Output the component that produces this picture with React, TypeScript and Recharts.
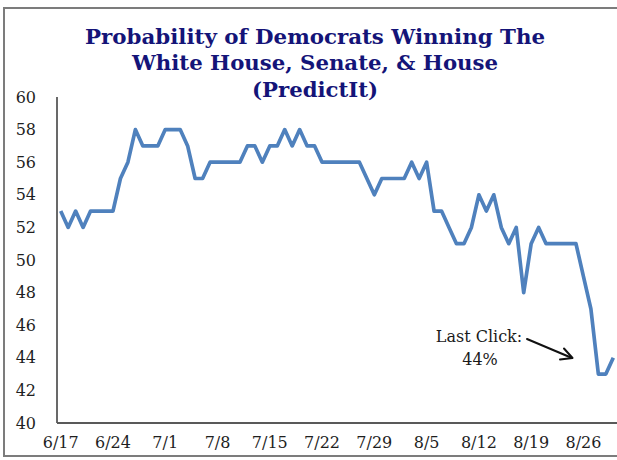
import React from "react";
import { LineChart, Line, XAxis, YAxis } from "recharts";

const dates = [
  "6/17", "6/18", "6/19", "6/20", "6/21", "6/22", "6/23", "6/24", "6/25", "6/26",
  "6/27", "6/28", "6/29", "6/30", "7/1", "7/2", "7/3", "7/4", "7/5", "7/6",
  "7/7", "7/8", "7/9", "7/10", "7/11", "7/12", "7/13", "7/14", "7/15", "7/16",
  "7/17", "7/18", "7/19", "7/20", "7/21", "7/22", "7/23", "7/24", "7/25", "7/26",
  "7/27", "7/28", "7/29", "7/30", "7/31", "8/1", "8/2", "8/3", "8/4", "8/5",
  "8/6", "8/7", "8/8", "8/9", "8/10", "8/11", "8/12", "8/13", "8/14", "8/15",
  "8/16", "8/17", "8/18", "8/19", "8/20", "8/21", "8/22", "8/23", "8/24", "8/25",
  "8/26", "8/27", "8/28", "8/29", "8/30",
];

const democratProbability = [
  53, 52, 53, 52, 53, 53, 53, 53, 55, 56,
  58, 57, 57, 57, 58, 58, 58, 57, 55, 55,
  56, 56, 56, 56, 56, 57, 57, 56, 57, 57,
  58, 57, 58, 57, 57, 56, 56, 56, 56, 56,
  56, 55, 54, 55, 55, 55, 55, 56, 55, 56,
  53, 53, 52, 51, 51, 52, 54, 53, 54, 52,
  51, 52, 48, 51, 52, 51, 51, 51, 51, 51,
  49, 47, 43, 43, 44,
];

const xTickLabels = ["6/17", "6/24", "7/1", "7/8", "7/15", "7/22", "7/29", "8/5", "8/12", "8/19", "8/26"];
const yTicks = [40, 42, 44, 46, 48, 50, 52, 54, 56, 58, 60];

const titleLines = ["Probability of Democrats Winning The", "White House, Senate, & House", "(PredictIt)"];
const annotationLines = ["Last Click:", "44%"];

const data = dates.map((d, i) => ({ date: d, value: democratProbability[i] }));

const tickStyle = { fontFamily: "DejaVu Serif", fontSize: 16, fill: "#1f1f1f" };

export default function App() {
  return (
    <div
      style={{
        position: "absolute",
        left: 0,
        top: 0,
        width: 617,
        height: 460,
        overflow: "hidden",
        background: "#ffffff",
      }}
    >
      <div
        style={{
          position: "absolute",
          left: 3,
          top: 7,
          width: 700,
          height: 450,
          border: "2px solid #7c7c7c",
          boxSizing: "border-box",
        }}
      />
      <div style={{ position: "absolute", left: 0, top: 0 }}>
        <LineChart width={617} height={460} data={data} margin={{ top: 97, right: 0, bottom: 7, left: 0 }}>
          <XAxis
            dataKey="date"
            ticks={xTickLabels}
            interval={0}
            padding={{ left: 3.7, right: 3.7 }}
            axisLine={{ stroke: "#595959", strokeWidth: 1.8 }}
            tickLine={false}
            tickSize={0}
            tickMargin={14}
            height={30}
            tick={tickStyle}
          />
          <YAxis
            domain={[40, 60]}
            ticks={yTicks}
            interval={0}
            width={57}
            axisLine={{ stroke: "#595959", strokeWidth: 1.8 }}
            tickLine={false}
            tickSize={0}
            tickMargin={21}
            tick={tickStyle}
          />
          <Line
            type="linear"
            dataKey="value"
            stroke="#4f81bd"
            strokeWidth={3.7}
            dot={false}
            activeDot={false}
            isAnimationActive={false}
            strokeLinejoin="round"
          />
        </LineChart>
      </div>
      <svg
        width={617}
        height={460}
        style={{ position: "absolute", left: 0, top: 0, pointerEvents: "none" }}
      >
        <g fontFamily="DejaVu Serif" fontWeight="bold" fill="#141478" fontSize={20}>
          <text x={315} y={43.5} textAnchor="middle" textLength={460} lengthAdjust="spacingAndGlyphs">
            {titleLines[0]}
          </text>
          <text x={315} y={70} textAnchor="middle" textLength={366} lengthAdjust="spacingAndGlyphs">
            {titleLines[1]}
          </text>
          <text x={315} y={96.5} textAnchor="middle" textLength={126} lengthAdjust="spacingAndGlyphs">
            {titleLines[2]}
          </text>
        </g>
        <g fontFamily="DejaVu Serif" fontSize={16} fill="#1a1a1a">
          <text x={479} y={342} textAnchor="middle">{annotationLines[0]}</text>
          <text x={480} y={365} textAnchor="middle">{annotationLines[1]}</text>
        </g>
        <g stroke="#111111" strokeWidth={2} fill="none" strokeLinecap="round" strokeLinejoin="round">
          <path d="M 527 339 L 572 358" />
          <polyline points="564,348.5 572.5,358 560,359.5" />
        </g>
      </svg>
    </div>
  );
}
